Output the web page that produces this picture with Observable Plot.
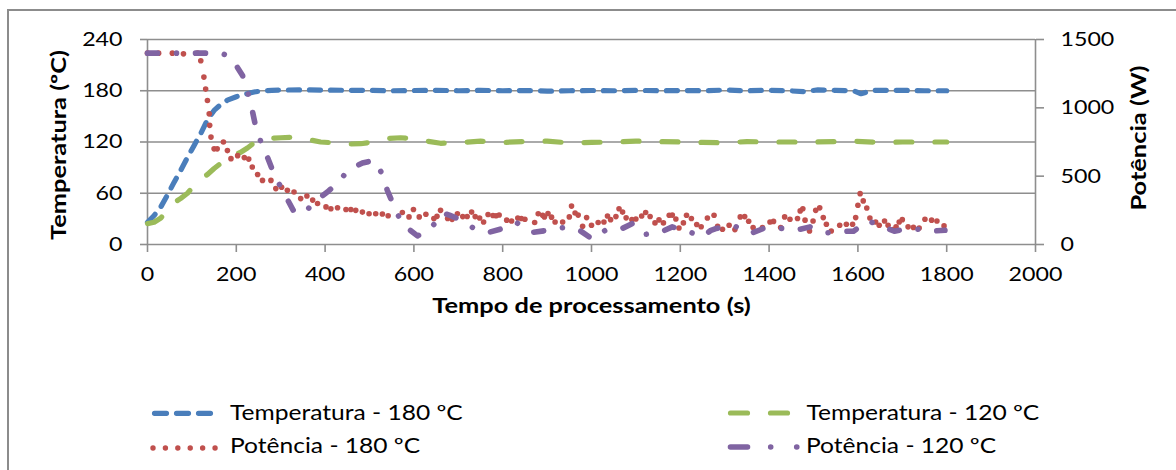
<!DOCTYPE html>
<html><head><meta charset="utf-8">
<script src="https://cdn.jsdelivr.net/npm/d3@7"></script>
<script src="https://cdn.jsdelivr.net/npm/@observablehq/plot@0.6"></script>
<style>
html,body{margin:0;padding:0;overflow:hidden;background:#fff;width:1176px;height:470px}
#frame{position:absolute;left:7px;top:9px;width:1200px;height:500px;border:2px solid #8c8c8c;box-sizing:border-box}
#chart{position:absolute;left:0;top:0}
#legend{position:absolute;left:0;top:380px}
</style></head><body>
<div id="frame"></div><div id="chart"></div>
<svg id="legend" width="1176" height="90"></svg>
<script>
const timeTicks = [0,200,400,600,800,1000,1200,1400,1600,1800,2000];
const tempTicks = [0,60,120,180,240];
const powerTicks = [0,500,1000,1500];
const tempMax = 240, powerMax = 1500;
const labels = {x: "Tempo de processamento (s)", yLeft: "Temperatura (ºC)", yRight: "Potência (W)"};
const seriesNames = ["Temperatura - 180 ºC", "Temperatura - 120 ºC", "Potência - 180 ºC", "Potência - 120 ºC"];
const colors = ["#4a7ebb", "#9bbb59", "#c0504d", "#8064a2"];

// [time s, temperature ºC]
const temp180 = [[0,26],[15,34],[30,44],[45,58],[60,73],[75,87],[90,102],[105,116],[120,130],[135,146],[150,157],[165,164],[180,169],[200,173],[220,176],[240,178.5],[260,180],[280,180.5],[300,180.8],[350,181],[400,180.8],[450,180.5],[500,180.5],[550,180],[600,180.3],[650,180.5],[700,180],[750,180.5],[800,180],[850,180.3],[900,179.5],[950,180],[1000,180.3],[1050,180],[1100,180.5],[1150,180],[1200,180.3],[1250,180],[1300,180.8],[1350,180],[1400,180.5],[1450,179.8],[1480,179],[1510,181],[1550,180.5],[1590,180],[1607,176.5],[1620,178.5],[1640,180.5],[1700,180.5],[1750,180],[1800,180]];
const temp120 = [[0,24.5],[15,26],[30,31],[45,40],[60,49],[75,54],[90,60],[105,69],[120,77],[135,82],[150,89],[165,95],[180,100],[195,105],[210,108],[225,113],[240,119],[255,122],[270,124],[300,125],[330,125.5],[360,123],[390,120],[420,119],[450,117.5],[480,118],[510,120],[540,124],[570,125],[600,124],[630,121],[660,118.5],[700,119],[750,121],[800,119.5],[850,120.5],[900,121],[950,119],[1000,119.5],[1050,120],[1100,121],[1150,120.5],[1200,120],[1250,119.5],[1300,119],[1350,120.5],[1400,120],[1450,120],[1500,120],[1550,120.5],[1590,121],[1650,119.5],[1700,120],[1750,120],[1800,120]];
// [time s, power W]
const power180 = [[0,1400],[25,1400],[56,1400],[81,1395],[113,1400],[120,1344],[127,1225],[131,1137],[135,1054],[139,956],[140,872],[143,786],[150,700],[157,700],[171,750],[180,687],[188,628],[203,650],[218,636],[228,625],[236,567],[248,512],[259,469],[278,469],[289,409],[302,419],[315,397],[330,384],[345,336],[359,355],[372,325],[383,300],[402,275],[413,262],[428,269],[447,256],[458,256],[469,250],[484,237],[499,225],[514,225],[529,223],[542,210],[574,234],[589,202],[599,256],[612,202],[627,221],[645,190],[652,206],[660,250],[676,190],[686,184],[698,225],[710,204],[720,205],[730,237],[738,204],[748,194],[757,165],[767,219],[778,212],[785,210],[792,216],[809,178],[820,172],[834,194],[842,190],[850,185],[872,161],[880,225],[890,214],[894,202],[902,226],[910,200],[918,165],[935,165],[950,202],[955,281],[963,231],[970,215],[980,134],[989,197],[1000,141],[1015,161],[1028,165],[1036,209],[1043,182],[1055,204],[1062,262],[1070,237],[1078,195],[1091,182],[1100,187],[1113,209],[1122,234],[1132,205],[1143,158],[1152,180],[1162,158],[1175,214],[1182,215],[1190,187],[1197,121],[1207,158],[1214,214],[1225,190],[1237,146],[1247,130],[1261,194],[1276,214],[1284,134],[1295,112],[1310,141],[1323,109],[1335,202],[1345,204],[1354,170],[1364,124],[1385,124],[1402,165],[1410,169],[1426,124],[1435,202],[1447,185],[1464,190],[1470,246],[1476,262],[1481,178],[1491,99],[1499,172],[1505,250],[1514,268],[1522,197],[1529,148],[1540,99],[1559,141],[1574,148],[1588,148],[1595,197],[1600,287],[1605,372],[1612,319],[1620,267],[1627,194],[1640,165],[1648,141],[1660,172],[1668,141],[1679,109],[1686,130],[1693,165],[1700,182],[1713,129],[1725,125],[1738,120],[1751,185],[1766,178],[1778,172],[1794,136]];
const power120 = [[0,1400],[40,1400],[95,1400],[135,1400],[165,1400],[180,1383],[195,1334],[214,1237],[221,1164],[232,1042],[242,888],[259,713],[270,640],[284,523],[300,421],[314,336],[330,240],[345,225],[356,238],[375,311],[405,384],[431,457],[451,543],[484,596],[510,616],[526,531],[540,397],[559,250],[570,178],[582,129],[608,63],[633,104],[657,190],[664,231],[680,215],[698,190],[734,121],[768,88],[800,117],[831,161],[865,88],[902,104],[937,124],[971,109],[1002,39],[1031,104],[1061,104],[1092,153],[1116,73],[1152,85],[1182,129],[1216,97],[1250,56],[1269,104],[1280,117],[1318,141],[1358,81],[1393,124],[1432,117],[1460,104],[1492,129],[1531,85],[1561,97],[1590,97],[1622,175],[1648,141],[1682,97],[1719,121],[1760,97],[1796,104]];

const k = tempMax / powerMax;
const rowsT = a => a.map(([t, v]) => ({t, v}));
const rowsP = a => a.map(([t, w]) => ({t, v: w * k}));
const grid = "#8e8e8e";
const font = "Lato, 'Open Sans', sans-serif";

const chart = Plot.plot({
  width: 1176, height: 380,
  marginLeft: 147, marginRight: 141, marginTop: 39, marginBottom: 136,
  x: {domain: [0, 2000]},
  y: {domain: [0, tempMax]},
  style: {fontFamily: font, fontSize: "20px", color: "#000", background: "transparent", overflow: "visible"},
  marks: [
    Plot.ruleY(tempTicks, {stroke: grid, strokeWidth: 1.6}),
    Plot.ruleX([0, 2000], {stroke: grid, strokeWidth: 1.6}),
    Plot.axisY({anchor: "left", ticks: tempTicks, tickSize: 7, tickPadding: 18, stroke: grid, strokeWidth: 1.6, label: null, tickFormat: d => String(d)}),
    Plot.axisY({anchor: "right", ticks: powerTicks.map(w => w * k), tickFormat: d => String(Math.round(d / k)), tickSize: 8, tickPadding: 17, stroke: grid, strokeWidth: 1.6, label: null}),
    Plot.axisX({ticks: timeTicks, tickSize: 8, tickPadding: 14, stroke: grid, strokeWidth: 1.6, label: null, tickFormat: d => String(d)}),
    Plot.line(rowsT(temp180), {x: "t", y: "v", stroke: colors[0], strokeWidth: 5.2, strokeDasharray: "11 10", strokeLinecap: "round", strokeLinejoin: "round"}),
    Plot.line(rowsT(temp120), {x: "t", y: "v", stroke: colors[1], strokeWidth: 5.2, strokeDasharray: "16 23", strokeLinecap: "round", strokeLinejoin: "round"}),
    Plot.dot(rowsP(power180), {x: "t", y: "v", r: 2.8, fill: colors[2]}),
    Plot.line(rowsP(power120), {x: "t", y: "v", stroke: colors[3], strokeWidth: 5.6, strokeDasharray: "10 19 0.01 19", strokeLinecap: "round", strokeLinejoin: "round"}),
    Plot.text([labels.yLeft], {text: d => d, frameAnchor: "left", textAnchor: "middle", rotate: -90, dx: -88, dy: 3, fontWeight: "bold", fontSize: 20, className: "title"}),
    Plot.text([labels.yRight], {text: d => d, frameAnchor: "right", textAnchor: "middle", rotate: -90, dx: 104, dy: -4, fontWeight: "bold", fontSize: 20, className: "title"}),
    Plot.text([labels.x], {text: d => d, frameAnchor: "bottom", textAnchor: "middle", dy: 68.5, fontWeight: "bold", fontSize: 20, className: "title"})
  ]
});
document.getElementById("chart").appendChild(chart);

// legend
const leg = d3.select("#legend").style("font-family", font).style("font-size", "21px");
const legendItems = [
  {i: 0, x1: 154.5, x2: 212.5, y: 33.3, dash: "12 10", w: 5.2, tx: 230, ty: 40},
  {i: 1, x1: 730.5, x2: 787.5, y: 33, dash: "17 23", w: 5.2, tx: 806.5, ty: 40},
  {i: 2, x1: 153, x2: 215.5, y: 68, dash: "0.01 12.4", w: 5.4, tx: 230, ty: 73},
  {i: 3, x1: 730.5, x2: 796.8, y: 67, dash: "17 23.2 0.01 26", w: 5.6, tx: 806, ty: 73}
];
for (const it of legendItems) {
  leg.append("line").attr("x1", it.x1).attr("x2", it.x2).attr("y1", it.y).attr("y2", it.y)
    .attr("stroke", colors[it.i]).attr("stroke-width", it.w).attr("stroke-linecap", "round")
    .attr("stroke-dasharray", it.dash);
  leg.append("text").attr("x", it.tx).attr("y", it.ty).attr("fill", "#000").text(seriesNames[it.i]);
}

function stretch(texts, f) {
  texts.forEach(t => {
    const w = t.getComputedTextLength();
    if (w > 0) { t.setAttribute("textLength", (w * f).toFixed(2)); t.setAttribute("lengthAdjust", "spacingAndGlyphs"); }
  });
}
const titleTexts = Array.from(chart.querySelectorAll("g.title text, .title text"));
const otherTexts = Array.from(chart.querySelectorAll("text")).filter(t => !titleTexts.includes(t));
stretch(otherTexts, 1.16);
stretch(titleTexts, 1.27);
stretch(Array.from(document.querySelectorAll("#legend text")), 1.17);
</script></body></html>
